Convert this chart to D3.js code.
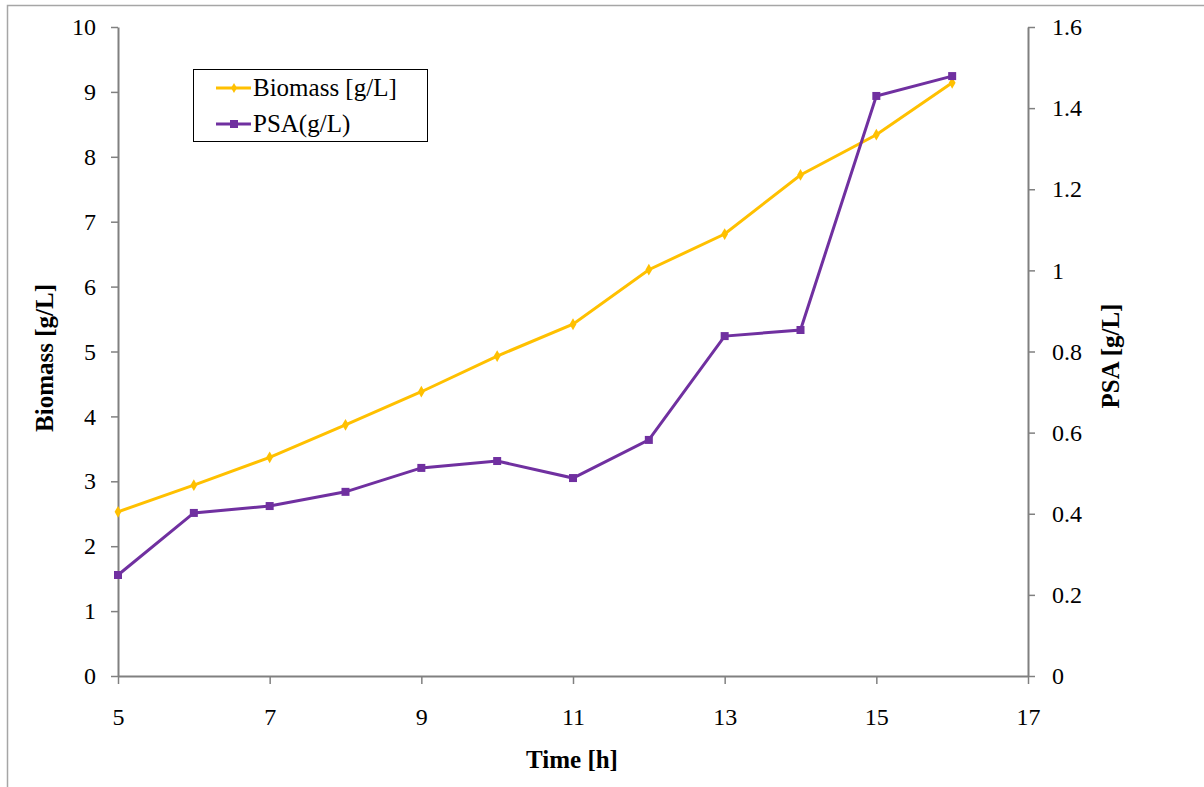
<!DOCTYPE html>
<html>
<head>
<meta charset="utf-8">
<script src="https://cdn.jsdelivr.net/npm/d3@7"></script>
<style>
body { margin: 0; background: #fff; }
svg text { font-family: "Liberation Serif", "Times New Roman", serif; fill: #000; }
</style>
</head>
<body>
<svg id="chart" width="1204" height="787"></svg>
<script>
// data
var hours = [5, 6, 7, 8, 9, 10, 11, 12, 13, 14, 15, 16];
var biomass = [2.53, 2.94, 3.37, 3.87, 4.38, 4.93, 5.42, 6.26, 6.81, 7.72, 8.34, 9.14];
var psa = [0.249, 0.402, 0.419, 0.454, 0.513, 0.530, 0.488, 0.582, 0.838, 0.853, 1.430, 1.479];
var xTicks = [5, 7, 9, 11, 13, 15, 17];
var leftTicks = [0, 1, 2, 3, 4, 5, 6, 7, 8, 9, 10];
var rightTicks = [0, 0.2, 0.4, 0.6, 0.8, 1, 1.2, 1.4, 1.6];

var svg = d3.select("#chart");
var plotL = 118, plotR = 1028, plotT = 27, plotB = 676;
var serif = '"Liberation Serif", "Times New Roman", serif';

// outer frame
svg.append("rect")
	.attr("x", 7.5).attr("y", 5.5)
	.attr("width", 1210).attr("height", 800)
	.attr("fill", "none")
	.attr("stroke", "#a6a6a6")
	.attr("stroke-width", 1.5);

var x = d3.scaleLinear().domain([5, 17]).range([plotL, plotR]);
var yL = d3.scaleLinear().domain([0, 10]).range([plotB, plotT]);
var yR = d3.scaleLinear().domain([0, 1.6]).range([plotB, plotT]);

var axisColor = "#808080";

function styleAxis(g){
	g.attr("font-family", serif).attr("font-size", 24);
	g.select(".domain").attr("stroke", axisColor).attr("stroke-width", 2);
	g.selectAll(".tick line").attr("stroke", axisColor).attr("stroke-width", 1.5);
	g.selectAll(".tick text").attr("fill", "#000");
}

svg.append("g")
	.attr("transform", "translate(0," + plotB + ")")
	.call(d3.axisBottom(x).tickValues(xTicks).tickSize(8).tickSizeOuter(0).tickPadding(24).tickFormat(d3.format("d")))
	.call(styleAxis);

svg.append("g")
	.attr("transform", "translate(" + plotL + ",0)")
	.call(d3.axisLeft(yL).tickValues(leftTicks).tickSize(7).tickSizeOuter(0).tickPadding(15).tickFormat(d3.format("d")))
	.call(styleAxis);

svg.append("g")
	.attr("transform", "translate(" + plotR + ",0)")
	.call(d3.axisRight(yR).tickValues(rightTicks).tickSize(7).tickSizeOuter(0).tickPadding(17).tickFormat(function(d){ return String(+d.toFixed(1)); }))
	.call(styleAxis);

// axis titles
svg.append("text")
	.attr("x", 572).attr("y", 768)
	.attr("text-anchor", "middle")
	.attr("font-family", serif)
	.style("font-size", "25px").style("font-weight", "bold")
	.text("Time [h]");

svg.append("text")
	.attr("transform", "translate(53,358) rotate(-90)")
	.attr("text-anchor", "middle")
	.attr("font-family", serif)
	.style("font-size", "25px").style("font-weight", "bold")
	.text("Biomass [g/L]");

svg.append("text")
	.attr("transform", "translate(1119,356) rotate(-90)")
	.attr("text-anchor", "middle")
	.attr("font-family", serif)
	.style("font-size", "25px").style("font-weight", "bold")
	.text("PSA [g/L]");

var orange = "#FFC000", purple = "#7030A0";

var bLine = d3.line().x(function(d, i){ return x(hours[i]); }).y(function(d){ return yL(d); });
var pLine = d3.line().x(function(d, i){ return x(hours[i]); }).y(function(d){ return yR(d); });

svg.append("path").datum(biomass)
	.attr("d", bLine).attr("fill", "none")
	.attr("stroke", orange).attr("stroke-width", 3);

svg.selectAll(".bm").data(biomass).enter().append("path")
	.attr("class", "bm")
	.attr("d", d3.symbol().type(d3.symbolDiamond).size(40))
	.attr("transform", function(d, i){ return "translate(" + x(hours[i]) + "," + yL(d) + ")"; })
	.attr("fill", orange);

svg.append("path").datum(psa)
	.attr("d", pLine).attr("fill", "none")
	.attr("stroke", purple).attr("stroke-width", 3);

svg.selectAll(".pm").data(psa).enter().append("rect")
	.attr("class", "pm")
	.attr("x", function(d, i){ return x(hours[i]) - 4; })
	.attr("y", function(d){ return yR(d) - 4; })
	.attr("width", 8).attr("height", 8)
	.attr("fill", purple);

// legend
var legend = svg.append("g").attr("transform", "translate(193,69)");
legend.append("rect")
	.attr("x", 0.5).attr("y", 0.5)
	.attr("width", 234).attr("height", 72)
	.attr("fill", "#fff").attr("stroke", "#000").attr("stroke-width", 1);

var items = [
	{ name: "Biomass [g/L]", color: orange, mark: "diamond" },
	{ name: "PSA(g/L)", color: purple, mark: "square" }
];
items.forEach(function(it, i){
	var cy = 19 + i * 36;
	legend.append("line")
		.attr("x1", 23).attr("x2", 58)
		.attr("y1", cy).attr("y2", cy)
		.attr("stroke", it.color).attr("stroke-width", 3);
	if (it.mark === "diamond") {
		legend.append("path")
			.attr("d", d3.symbol().type(d3.symbolDiamond).size(30))
			.attr("transform", "translate(41," + cy + ")")
			.attr("fill", it.color);
	} else {
		legend.append("rect")
			.attr("x", 37).attr("y", cy - 4)
			.attr("width", 8).attr("height", 8)
			.attr("fill", it.color);
	}
	legend.append("text")
		.attr("x", 60).attr("y", cy + 8)
		.attr("font-family", serif)
		.style("font-size", "25px")
		.text(it.name);
});
</script>
</body>
</html>
